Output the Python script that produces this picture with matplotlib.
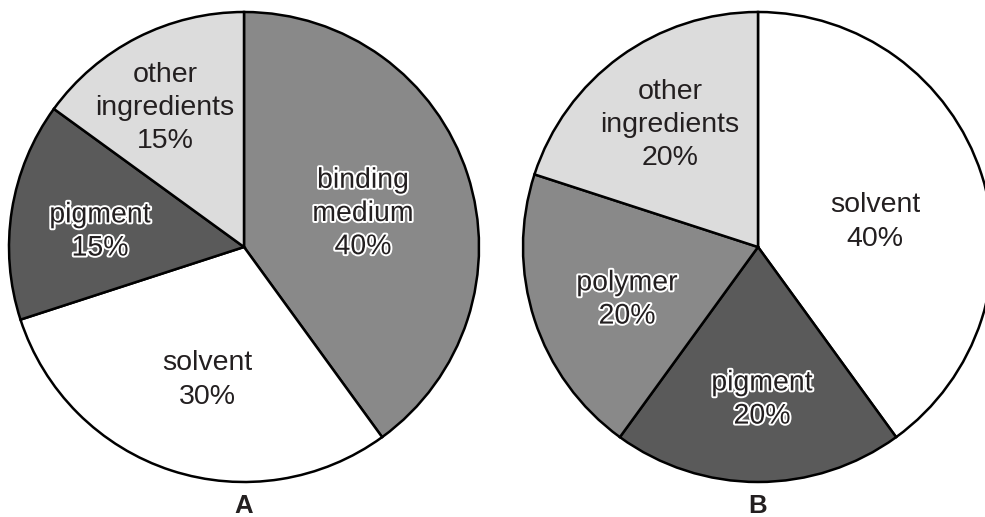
import matplotlib
matplotlib.use("Agg")
import matplotlib.pyplot as plt
import matplotlib.patheffects as pe

# ---- data ----
a_labels = ["binding\nmedium", "solvent", "pigment", "other\ningredients"]
a_values = [40, 30, 15, 15]
b_labels = ["solvent", "pigment", "polymer", "other\ningredients"]
b_values = [40, 20, 20, 20]
pie_titles = ["A", "B"]

# ---- style ----
W, H = 985, 517
a_colors = ["#898989", "#ffffff", "#5a5a5a", "#dcdcdc"]
b_colors = ["#ffffff", "#5a5a5a", "#898989", "#dcdcdc"]
a_outlined = [True, False, True, False]
b_outlined = [False, True, True, False]
a_center, b_center = (244, 247), (758, 247)
radius = 235
a_text_pos = [(363, 214), (207, 380), (100, 232), (165, 108)]
b_text_pos = [(875, 222), (762, 400), (627, 300), (670, 125)]
title_y = 506
txt_color = "#231f20"
font = "Liberation Sans"
fs = 20.5

fig = plt.figure(figsize=(W / 100, H / 100), dpi=100)
ax = fig.add_axes([0, 0, 1, 1])

def draw(values, labels, colors, outlined, center, text_pos, title):
    cx, cy = center
    ax.pie(values, colors=colors, startangle=90, counterclock=False,
           radius=radius, center=(cx, H - cy),
           wedgeprops=dict(edgecolor="black", linewidth=1.8))
    for lab, v, out, (tx, ty) in zip(labels, values, outlined, text_pos):
        t = ax.text(tx, H - ty, f"{lab}\n{v}%", ha="center", va="center",
                    fontsize=fs, family=font, color=txt_color,
                    linespacing=1.36)
        if out:
            t.set_path_effects([pe.withStroke(linewidth=2.8, foreground="white")])
    ax.text(cx, H - title_y, title, ha="center", va="center",
            fontsize=18.5, fontweight="bold", family=font, color=txt_color)

draw(a_values, a_labels, a_colors, a_outlined, a_center, a_text_pos, pie_titles[0])
draw(b_values, b_labels, b_colors, b_outlined, b_center, b_text_pos, pie_titles[1])

ax.set_xlim(0, W)
ax.set_ylim(0, H)
ax.set_aspect("equal")
ax.axis("off")
fig.savefig("out.png", dpi=100, facecolor="white")
